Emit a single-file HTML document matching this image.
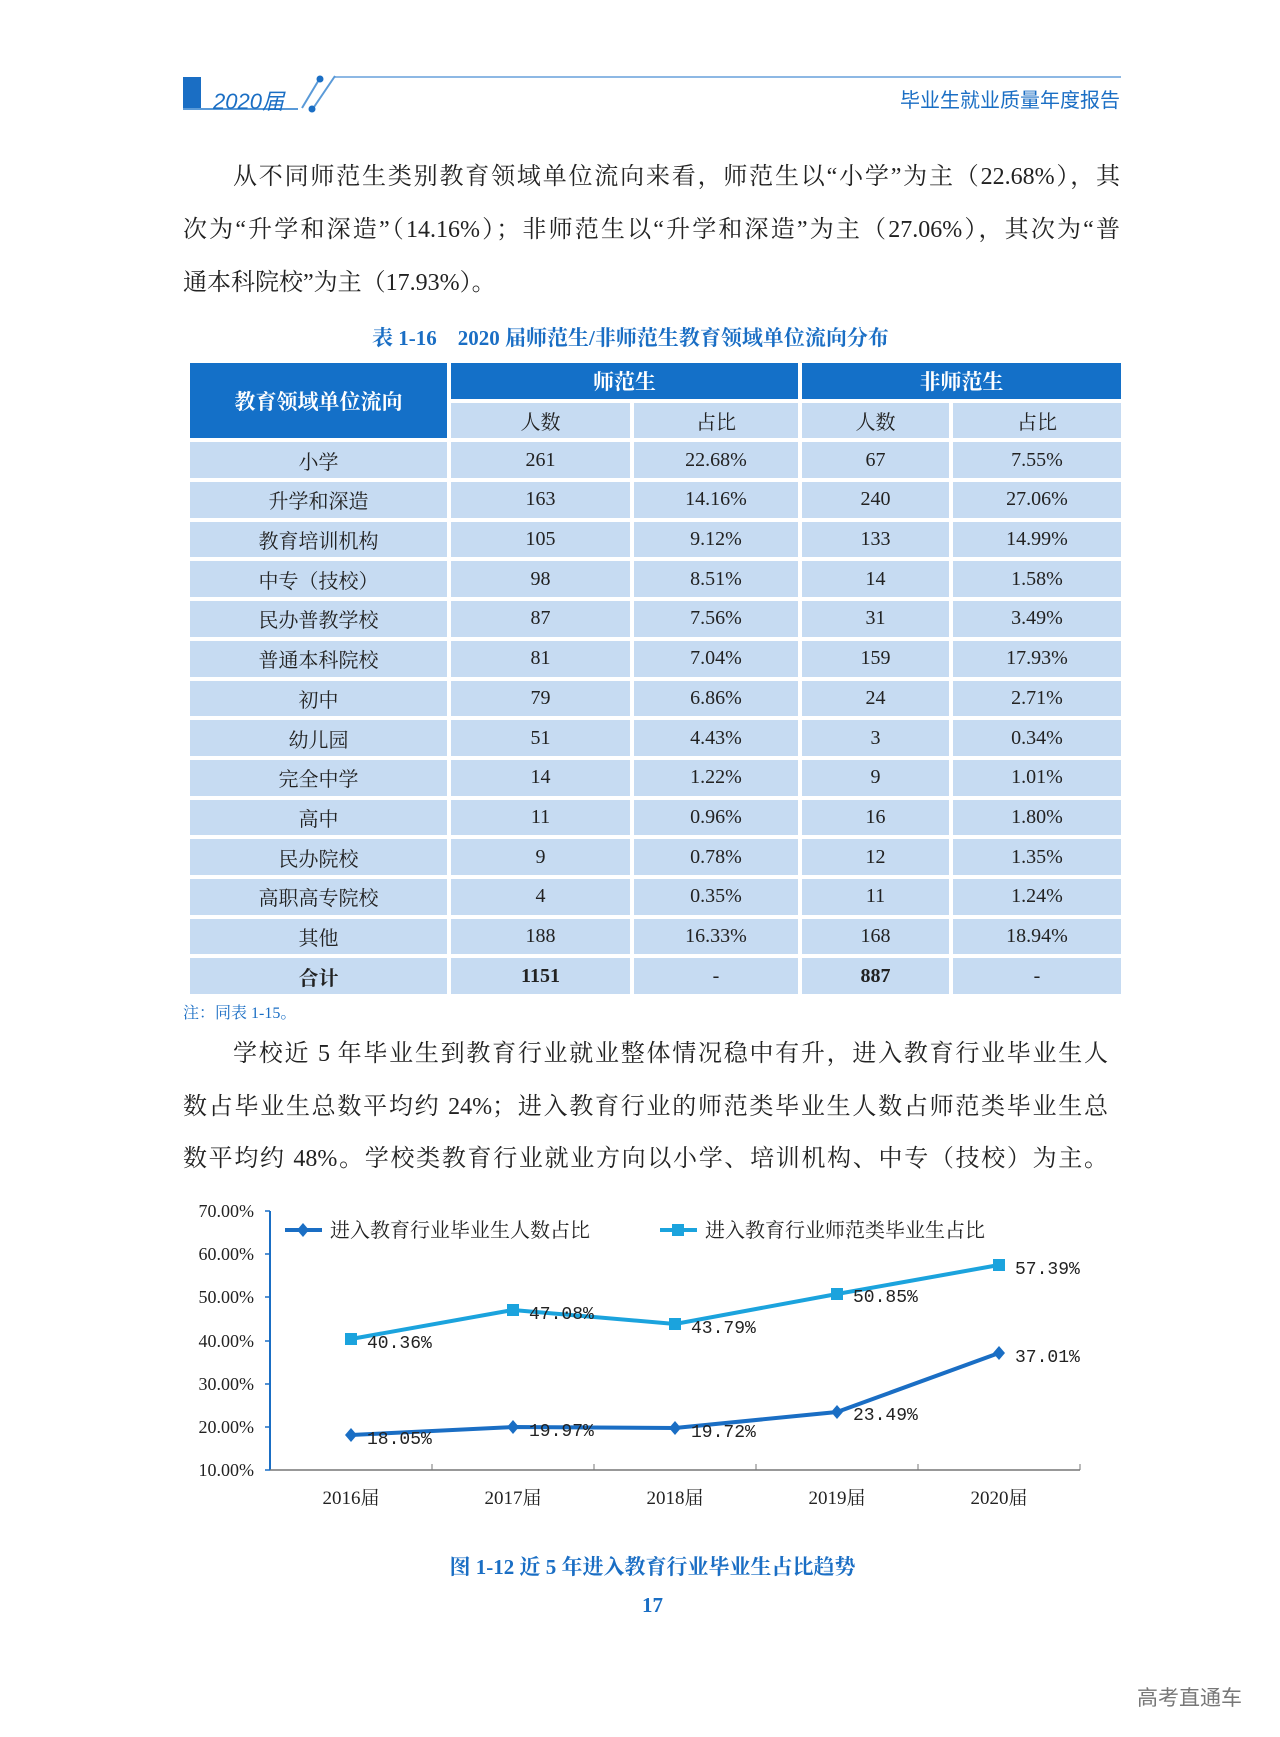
<!DOCTYPE html>
<html><head><meta charset="utf-8"><style>
body{margin:0;width:1280px;height:1737px;background:#fff;position:relative;overflow:hidden;font-family:"Liberation Serif","Noto Serif CJK SC",serif;color:#222}
.a{position:absolute;white-space:nowrap}
.l{position:absolute;left:183px;width:937px;font-size:24px;line-height:28px;text-align:justify;text-align-last:justify;white-space:nowrap}
table{position:absolute;left:186px;top:359px;border-collapse:separate;border-spacing:4px;font-size:20px}
td{background:#c6dbf2;text-align:center;height:35.7px;padding:0;color:#222}
td.h{background:#1470c8;color:#fff;font-weight:bold;font-size:21px}
.b{font-weight:bold}
</style></head><body>
<div class="a" style="left:183px;top:77px;width:18px;height:33px;background:#1a6ec4"></div>
<div class="a" style="left:183px;top:108px;width:115px;height:2px;background:#5a9ad8"></div>
<div class="a" style="left:335px;top:76px;width:786px;height:2px;background:#8db8e4"></div>
<svg class="a" style="left:290px;top:70px" width="60" height="45"><line x1="12" y1="38" x2="30" y2="8" stroke="#5a9ad8" stroke-width="2"/><line x1="22" y1="40" x2="45" y2="6" stroke="#5a9ad8" stroke-width="2"/><circle cx="30" cy="9" r="3.5" fill="#1a6ec4"/><circle cx="22" cy="39" r="3.5" fill="#1a6ec4"/></svg>
<div class="a" style="left:213px;top:84px;font:italic 22px 'Liberation Sans','Noto Sans CJK SC',sans-serif;color:#1a6ec4">2020届</div>
<div class="a" style="right:160px;top:84px;font:20px 'Liberation Sans','Noto Sans CJK SC',sans-serif;color:#1a6ec4">毕业生就业质量年度报告</div>

<div class="l" style="top:163px;left:233px;width:887px">从不同师范生类别教育领域单位流向来看，师范生以“小学”为主（22.68%），其</div>
<div class="l" style="top:216px">次为“升学和深造”（14.16%）；非师范生以“升学和深造”为主（27.06%），其次为“普</div>
<div class="l" style="top:269px;text-align-last:left">通本科院校”为主（17.93%）。</div>

<div class="a b" style="left:372px;top:322px;font-size:21px;color:#1a6ec4">表 1-16　2020 届师范生/非师范生教育领域单位流向分布</div>

<table>
<tr><td class="h" rowspan="2" style="width:257px">教育领域单位流向</td><td class="h" colspan="2">师范生</td><td class="h" colspan="2">非师范生</td></tr>
<tr><td style="width:179px">人数</td><td style="width:164px">占比</td><td style="width:147px">人数</td><td style="width:168px">占比</td></tr>
<tr><td>小学</td><td>261</td><td>22.68%</td><td>67</td><td>7.55%</td></tr>
<tr><td>升学和深造</td><td>163</td><td>14.16%</td><td>240</td><td>27.06%</td></tr>
<tr><td>教育培训机构</td><td>105</td><td>9.12%</td><td>133</td><td>14.99%</td></tr>
<tr><td>中专（技校）</td><td>98</td><td>8.51%</td><td>14</td><td>1.58%</td></tr>
<tr><td>民办普教学校</td><td>87</td><td>7.56%</td><td>31</td><td>3.49%</td></tr>
<tr><td>普通本科院校</td><td>81</td><td>7.04%</td><td>159</td><td>17.93%</td></tr>
<tr><td>初中</td><td>79</td><td>6.86%</td><td>24</td><td>2.71%</td></tr>
<tr><td>幼儿园</td><td>51</td><td>4.43%</td><td>3</td><td>0.34%</td></tr>
<tr><td>完全中学</td><td>14</td><td>1.22%</td><td>9</td><td>1.01%</td></tr>
<tr><td>高中</td><td>11</td><td>0.96%</td><td>16</td><td>1.80%</td></tr>
<tr><td>民办院校</td><td>9</td><td>0.78%</td><td>12</td><td>1.35%</td></tr>
<tr><td>高职高专院校</td><td>4</td><td>0.35%</td><td>11</td><td>1.24%</td></tr>
<tr><td>其他</td><td>188</td><td>16.33%</td><td>168</td><td>18.94%</td></tr>
<tr><td class="b">合计</td><td class="b">1151</td><td>-</td><td class="b">887</td><td>-</td></tr>
</table>
<div class="a" style="left:183px;top:1000px;font-size:16px;color:#1a6ec4">注：同表 1-15。</div>

<div class="l" style="top:1040px;left:233px;width:875px">学校近 5 年毕业生到教育行业就业整体情况稳中有升，进入教育行业毕业生人</div>
<div class="l" style="top:1093px;width:925px">数占毕业生总数平均约 24%；进入教育行业的师范类毕业生人数占师范类毕业生总</div>
<div class="l" style="top:1145px;width:925px">数平均约 48%。学校类教育行业就业方向以小学、培训机构、中专（技校）为主。</div>

<svg class="a" style="left:0;top:1186px" width="1280" height="330" font-family="Liberation Serif,Noto Serif CJK SC,serif" font-size="18" fill="#222">
<line x1="270" y1="25" x2="270" y2="284" stroke="#1a6ec4" stroke-width="2"/>
<line x1="270" y1="284" x2="1080" y2="284" stroke="#777" stroke-width="1.5"/>
<g stroke="#1a6ec4" stroke-width="1.5"><line x1="265" y1="25" x2="270" y2="25"/><line x1="265" y1="68" x2="270" y2="68"/><line x1="265" y1="111" x2="270" y2="111"/><line x1="265" y1="155" x2="270" y2="155"/><line x1="265" y1="198" x2="270" y2="198"/><line x1="265" y1="241" x2="270" y2="241"/><line x1="265" y1="284" x2="270" y2="284"/></g>
<g stroke="#777"><line x1="432" y1="278" x2="432" y2="284"/><line x1="594" y1="278" x2="594" y2="284"/><line x1="756" y1="278" x2="756" y2="284"/><line x1="918" y1="278" x2="918" y2="284"/><line x1="1080" y1="278" x2="1080" y2="284"/></g>
<g text-anchor="end"><text x="254" y="31">70.00%</text><text x="254" y="74">60.00%</text><text x="254" y="117">50.00%</text><text x="254" y="161">40.00%</text><text x="254" y="204">30.00%</text><text x="254" y="247">20.00%</text><text x="254" y="290">10.00%</text></g>
<g text-anchor="middle" font-size="19"><text x="351" y="318">2016届</text><text x="513" y="318">2017届</text><text x="675" y="318">2018届</text><text x="837" y="318">2019届</text><text x="999" y="318">2020届</text></g>
<polyline points="351,153 513,124 675,138 837,108 999,79" fill="none" stroke="#1ba3dd" stroke-width="4"/>
<g fill="#1ba3dd"><rect x="345" y="147" width="12" height="12"/><rect x="507" y="118" width="12" height="12"/><rect x="669" y="132" width="12" height="12"/><rect x="831" y="102" width="12" height="12"/><rect x="993" y="73" width="12" height="12"/></g>
<polyline points="351,249 513,241 675,242 837,226 999,167" fill="none" stroke="#1a6ec4" stroke-width="4"/>
<g fill="#1a6ec4"><path d="M351,242l6,7l-6,7l-6,-7z"/><path d="M513,234l6,7l-6,7l-6,-7z"/><path d="M675,235l6,7l-6,7l-6,-7z"/><path d="M837,219l6,7l-6,7l-6,-7z"/><path d="M999,160l6,7l-6,7l-6,-7z"/></g>
<g font-family="Liberation Mono,Noto Serif CJK SC,monospace" font-size="18"><text x="367" y="162">40.36%</text><text x="529" y="133">47.08%</text><text x="691" y="147">43.79%</text><text x="853" y="116">50.85%</text><text x="1015" y="88">57.39%</text>
<text x="367" y="258">18.05%</text><text x="529" y="250">19.97%</text><text x="691" y="251">19.72%</text><text x="853" y="234">23.49%</text><text x="1015" y="176">37.01%</text></g>
<line x1="285" y1="44" x2="322" y2="44" stroke="#1a6ec4" stroke-width="4"/><path d="M303,37l6,7l-6,7l-6,-7z" fill="#1a6ec4"/>
<text x="330" y="51" font-size="20">进入教育行业毕业生人数占比</text>
<line x1="660" y1="44" x2="697" y2="44" stroke="#1ba3dd" stroke-width="4"/><rect x="672" y="38" width="12" height="12" fill="#1ba3dd"/>
<text x="705" y="51" font-size="20">进入教育行业师范类毕业生占比</text>
</svg>

<div class="a b" style="left:0;width:1305px;text-align:center;top:1551px;font-size:21px;color:#1a6ec4">图 1-12 近 5 年进入教育行业毕业生占比趋势</div>
<div class="a b" style="left:0;width:1305px;text-align:center;top:1593px;font-size:21px;color:#1a6ec4">17</div>
<div class="a" style="left:1137px;top:1682px;font:21px 'Liberation Sans','Noto Sans CJK SC',sans-serif;color:#777">高考直通车</div>
</body></html>
